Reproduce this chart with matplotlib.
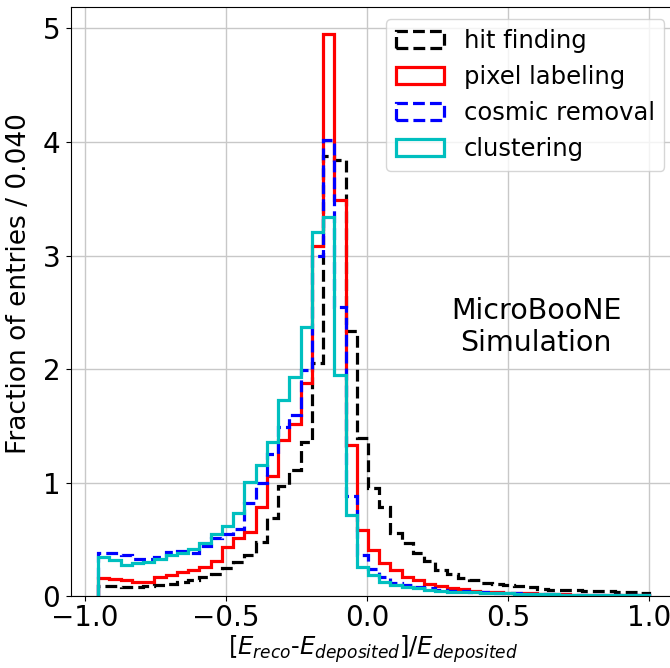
import numpy as np
import matplotlib
matplotlib.use('Agg')
import matplotlib.pyplot as plt

# bin edges: 49 bins of ~0.04 from -0.952 to 1.0
edges = np.linspace(-0.952, 1.0, 50)
centers = 0.5 * (edges[:-1] + edges[1:])

hit_finding = [0.09, 0.09, 0.08, 0.08, 0.09, 0.10, 0.11, 0.13, 0.14, 0.17,
               0.20, 0.25, 0.30, 0.36, 0.48, 0.69, 0.97, 1.11, 1.36, 2.05,
               3.88, 3.84, 2.34, 1.39, 0.95, 0.79, 0.56, 0.47, 0.38, 0.31,
               0.23, 0.20, 0.16, 0.14, 0.12, 0.11, 0.10, 0.09, 0.08, 0.065,
               0.06, 0.055, 0.055, 0.05, 0.045, 0.045, 0.04, 0.035, 0.03]
pixel_labeling = [0.16, 0.15, 0.14, 0.13, 0.13, 0.17, 0.19, 0.21, 0.23, 0.26,
                  0.31, 0.43, 0.51, 0.57, 0.79, 1.06, 1.38, 1.52, 1.875, 3.08,
                  4.95, 3.49, 1.33, 0.585, 0.41, 0.29, 0.23, 0.17, 0.14, 0.11,
                  0.09, 0.07, 0.065, 0.05, 0.04, 0.036, 0.03, 0.028, 0.025, 0.022,
                  0.02, 0.018, 0.016, 0.015, 0.013, 0.012, 0.011, 0.01, 0.01]
cosmic_removal = [0.38, 0.38, 0.36, 0.33, 0.33, 0.35, 0.39, 0.40, 0.38, 0.44,
                  0.51, 0.55, 0.59, 0.82, 1.00, 1.25, 1.49, 1.60, 1.99, 3.00,
                  4.02, 2.55, 0.88, 0.36, 0.24, 0.17, 0.12, 0.10, 0.08, 0.07,
                  0.06, 0.05, 0.045, 0.04, 0.035, 0.03, 0.028, 0.025, 0.022, 0.02,
                  0.018, 0.016, 0.015, 0.013, 0.012, 0.011, 0.01, 0.01, 0.01]
clustering = [0.35, 0.32, 0.28, 0.29, 0.30, 0.33, 0.36, 0.38, 0.42, 0.47,
              0.55, 0.62, 0.73, 1.01, 1.16, 1.36, 1.73, 1.93, 2.37, 3.21,
              3.34, 1.95, 0.72, 0.26, 0.19, 0.13, 0.10, 0.08, 0.07, 0.06,
              0.05, 0.04, 0.04, 0.035, 0.03, 0.028, 0.025, 0.022, 0.02, 0.02,
              0.018, 0.016, 0.015, 0.013, 0.012, 0.011, 0.01, 0.01, 0.01]

labels = ['hit finding', 'pixel labeling', 'cosmic removal', 'clustering']
colors = ['k', 'r', 'b', 'c']
styles = ['--', '-', '--', '-']
series = [hit_finding, pixel_labeling, cosmic_removal, clustering]

fig = plt.figure(figsize=(6.7, 6.68), dpi=100)
ax = fig.add_axes([0.1055, 0.1073, 0.9043, 0.8826])

for vals, lab, col, ls in zip(series, labels, colors, styles):
    ax.hist(centers, bins=edges, weights=vals, histtype='step',
            color=col, ls=ls, lw=2.3, label=lab)

ax.set_xlim(-1.0496, 1.0976)
ax.set_ylim(0, 5.19)
ax.set_xticks([-1.0, -0.5, 0.0, 0.5, 1.0])
ax.set_yticks([0, 1, 2, 3, 4, 5])
ax.tick_params(labelsize=20, pad=2)
ax.tick_params(axis='y', pad=4)
ax.grid(True, color='#c8c8c8', lw=1)
ax.set_axisbelow(True)

ax.set_xlabel(r'$[E_{reco}$-$E_{deposited}]/E_{deposited}$', fontsize=17.5)
ax.xaxis.set_label_coords(0.499, -0.062)
ax.set_ylabel('Fraction of entries / 0.040', fontsize=19)
ax.yaxis.set_label_coords(-0.064, 0.531)
ax.text(0.6, 2.37, 'MicroBooNE\nSimulation', fontsize=20.5,
        ha='center', va='center')
ax.legend(loc='upper right', fontsize=17.5)

fig.savefig('out.png', dpi=100)
